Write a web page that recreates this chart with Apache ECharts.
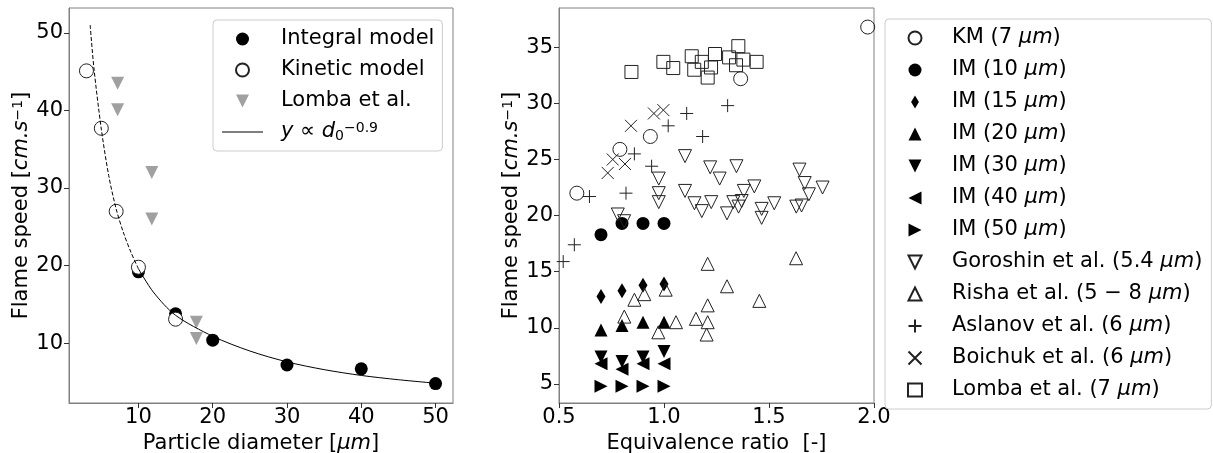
<!DOCTYPE html>
<html>
<head>
<meta charset="utf-8">
<script src="https://cdn.jsdelivr.net/npm/echarts@6/dist/echarts.min.js"></script>
<style>
  html, body { margin: 0; padding: 0; background: #fff; }
  #chart { width: 1213px; height: 453px; }
</style>
</head>
<body>
<div id="chart"></div>
<script>
// ---- left panel: flame speed vs particle diameter ----
var imDiam = [10, 15, 20, 30, 40, 50];
var imSpeed = [19.2, 13.8, 10.4, 7.2, 6.7, 4.8];
var kmDiam = [3, 5, 7, 10, 15];
var kmSpeed = [45.1, 37.7, 27.0, 19.8, 13.1];
var lombaDiam = [7.2, 7.2, 11.8, 11.8, 17.8, 17.8];
var lombaSpeed = [43.5, 40.1, 32.0, 26.0, 12.7, 10.6];
var fitDashDiam = [3.5, 4, 5, 6, 7, 8, 9, 10];
var fitDashSpeed = [51.0, 45.5, 37.6, 31.6, 27.3, 24.2, 21.7, 19.6];
var fitDiam = [10, 12, 15, 20, 25, 30, 35, 40, 45, 50];
var fitSpeed = [19.6, 16.6, 13.6, 10.9, 9.0, 7.6, 6.6, 5.85, 5.3, 4.85];
var leftXTicks = [10, 20, 30, 40, 50];
var leftYTicks = [10, 20, 30, 40, 50];

// ---- right panel: flame speed vs equivalence ratio ----
var kmPhi = [[0.585, 22.0], [0.79, 25.9], [0.935, 27.05], [1.365, 32.2], [1.97, 36.8]];
var imPhi = [0.7, 0.8, 0.9, 1.0];
var im10 = [18.3, 19.3, 19.3, 19.3];
var im15 = [12.8, 13.3, 13.8, 13.9];
var im20 = [9.8, 10.2, 10.5, 10.5];
var im30 = [7.4, 7.0, 7.4, 7.9];
var im40 = [6.8, 6.3, 6.8, 6.8];
var im50 = [4.8, 4.8, 4.8, 4.8];
var goroshin = [[0.78, 20.1], [0.81, 19.5], [0.975, 23.3], [0.975, 22.0], [0.975, 21.2],
  [1.10, 25.3], [1.10, 22.2], [1.145, 21.1], [1.18, 20.4], [1.22, 24.3], [1.225, 21.2],
  [1.265, 23.3], [1.30, 20.2], [1.33, 21.2], [1.345, 24.4], [1.355, 20.8], [1.37, 21.3],
  [1.38, 22.2], [1.43, 22.6], [1.465, 20.6], [1.465, 19.8], [1.525, 21.1], [1.63, 20.8],
  [1.655, 20.9], [1.645, 24.1], [1.67, 22.9], [1.69, 21.9], [1.755, 22.5]];
var risha = [[1.208, 15.7], [1.629, 16.2], [1.30, 13.7], [1.454, 12.4], [1.208, 12.0],
  [0.859, 12.5], [0.906, 13.0], [1.008, 13.4], [0.811, 11.0], [1.057, 10.5], [0.973, 9.6],
  [1.152, 10.8], [1.208, 10.5], [1.203, 9.4]];
var aslanov = [[0.52, 15.9], [0.573, 17.4], [0.645, 21.7], [0.819, 22.0], [0.859, 25.5],
  [0.941, 24.4], [1.02, 28.0], [1.108, 29.1], [1.184, 27.05], [1.303, 29.8]];
var boichuk = [[0.732, 23.8], [0.756, 25.0], [0.814, 24.6], [0.843, 28.0], [0.952, 29.1], [0.997, 29.4]];
var lombaPhi = [[0.845, 32.8], [0.997, 33.7], [1.044, 33.15], [1.132, 34.2], [1.144, 33.0],
  [1.18, 33.7], [1.208, 32.3], [1.224, 33.2], [1.243, 34.4], [1.31, 34.1], [1.354, 35.1],
  [1.343, 33.4], [1.378, 33.9], [1.441, 33.7]];
var rightYTicks = [5, 10, 15, 20, 25, 30, 35];

function zip(xs, ys) {
  return xs.map(function (x, i) { return [x, ys[i]]; });
}

var chart = echarts.init(document.getElementById('chart'));
var font = 'DejaVu Sans';
var fs = 21;

// marker shapes (matplotlib-like)
var plusPath = 'path://M5,0L5,10M0,5L10,5';
var crossPath = 'path://M0,0L10,10M10,0L0,10';
var triUp = 'path://M5,0L10,10L0,10Z';
var triDown = 'path://M0,0L10,0L5,10Z';
var triLeft = 'path://M0,5L10,0L10,10Z';
var triRight = 'path://M0,0L10,5L0,10Z';
var thinDiamond = 'path://M3,0L6,5L3,10L0,5Z';
var lineIcon = 'path://M0,0L41,0L41,1.2L0,1.2Z';

var open = { color: 'transparent', borderColor: '#222', borderWidth: 1, opacity: 1 };
var filled = { color: '#000', opacity: 1 };
var rich = {
  i: { fontStyle: 'italic', fontSize: fs, fontFamily: font, color: '#000' },
  sub: { fontStyle: 'normal', fontSize: 14, fontFamily: font, color: '#000', verticalAlign: 'bottom', lineHeight: 16 },
  sup: { fontStyle: 'normal', fontSize: 14, fontFamily: font, color: '#000', verticalAlign: 'top', lineHeight: 14 }
};

function axisCommon(isX) {
  return {
    type: 'value',
    axisLine: { show: true, lineStyle: { color: '#808080', width: 1 } },
    splitLine: { show: false },
    axisTick: { show: true, length: 5, lineStyle: { color: '#333' } },
    axisLabel: { fontSize: fs, fontFamily: font, color: '#000', margin: isX ? 4 : 6 },
    nameLocation: 'middle',
    nameGap: isX ? 17 : 27,
    nameTextStyle: { fontSize: fs, fontFamily: font, color: '#000', rich: rich }
  };
}

var xLeft = axisCommon(true);
xLeft.gridIndex = 0; xLeft.min = 0.65; xLeft.max = 52.35;
xLeft.axisTick.customValues = leftXTicks;
xLeft.axisLabel.customValues = leftXTicks;
xLeft.name = 'Particle diameter [{i|μm}]';

var yLeft = axisCommon(false);
yLeft.gridIndex = 0; yLeft.min = 2.3; yLeft.max = 53.2;
yLeft.axisTick.customValues = leftYTicks;
yLeft.axisLabel.customValues = leftYTicks;
yLeft.name = 'Flame speed [{i|cm.s}{sup|−1}]';

var xRight = axisCommon(true);
xRight.gridIndex = 1; xRight.min = 0.5; xRight.max = 2.0; xRight.interval = 0.5;
xRight.axisLabel.formatter = function (v) { return v.toFixed(1); };
xRight.name = 'Equivalence ratio  [-]';

var yRight = axisCommon(false);
yRight.gridIndex = 1; yRight.min = 3.3; yRight.max = 38.5;
yRight.axisTick.customValues = rightYTicks;
yRight.axisLabel.customValues = rightYTicks;
yRight.name = 'Flame speed [{i|cm.s}{sup|−1}]';

function sc(name, data, symbol, size, style) {
  return {
    name: name, type: 'scatter', xAxisIndex: 1, yAxisIndex: 1,
    data: data, symbol: symbol, symbolSize: size, symbolKeepAspect: true, itemStyle: style
  };
}

var legendText = {
  fontSize: fs, fontFamily: font, color: '#000', lineHeight: 22, rich: rich
};

var option = {
  animation: false,
  backgroundColor: '#fff',
  grid: [
    { left: 69, top: 8, width: 384, height: 395, show: true, borderColor: '#808080', borderWidth: 1,
      containLabel: false, outerBoundsMode: 'none' },
    { left: 559, top: 8, width: 315, height: 395, show: true, borderColor: '#808080', borderWidth: 1,
      containLabel: false, outerBoundsMode: 'none' }
  ],
  xAxis: [xLeft, xRight],
  yAxis: [yLeft, yRight],
  legend: [
    {
      left: 213, top: 20, orient: 'vertical', selectedMode: false,
      padding: [8, 8, 8, 9], itemWidth: 41, itemHeight: 13, itemGap: 9,
      backgroundColor: 'rgba(255,255,255,0.8)', borderColor: '#ccc', borderWidth: 1, borderRadius: 4,
      textStyle: Object.assign({ padding: [0, 0, 0, 13] }, legendText),
      data: ['Integral model', 'Kinetic model', 'Lomba et al.', { name: 'fit', icon: lineIcon }],
      formatter: function (name) {
        return name === 'fit' ? '{i|y} ∝ {i|d}{sub|0}{sup|−0.9}' : name;
      }
    },
    {
      left: 885, top: 19, orient: 'vertical', selectedMode: false,
      padding: [8, 9, 8, 22], itemWidth: 14, itemHeight: 13, itemGap: 10,
      backgroundColor: 'rgba(255,255,255,0.8)', borderColor: '#ccc', borderWidth: 1, borderRadius: 4,
      textStyle: Object.assign({ padding: [0, 0, 0, 25] }, legendText),
      data: ['KM (7 μm)', 'IM (10 μm)', 'IM (15 μm)', 'IM (20 μm)', 'IM (30 μm)', 'IM (40 μm)',
        'IM (50 μm)', 'Goroshin et al. (5.4 μm)', 'Risha et al. (5 − 8 μm)',
        'Aslanov et al. (6 μm)', 'Boichuk et al. (6 μm)', 'Lomba et al. (7 μm)'],
      formatter: function (name) { return name.replace('μm', '{i|μm}'); }
    }
  ],
  series: [
    { name: 'Integral model', type: 'scatter', xAxisIndex: 0, yAxisIndex: 0,
      data: zip(imDiam, imSpeed), symbol: 'circle', symbolSize: 13, itemStyle: filled },
    { name: 'Kinetic model', type: 'scatter', xAxisIndex: 0, yAxisIndex: 0,
      data: zip(kmDiam, kmSpeed), symbol: 'circle', symbolSize: 14,
      itemStyle: { color: '#fff', borderColor: '#222', borderWidth: 1, opacity: 1 } },
    { name: 'Lomba et al.', type: 'scatter', xAxisIndex: 0, yAxisIndex: 0,
      data: zip(lombaDiam, lombaSpeed), symbol: triDown, symbolSize: 13, symbolKeepAspect: true,
      itemStyle: { color: '#a0a0a0', opacity: 1 } },
    { name: 'fit dashed', type: 'line', xAxisIndex: 0, yAxisIndex: 0,
      data: zip(fitDashDiam, fitDashSpeed), symbol: 'none', smooth: 0.3,
      lineStyle: { color: '#000', width: 1, type: [4, 2] } },
    { name: 'fit', type: 'line', xAxisIndex: 0, yAxisIndex: 0,
      data: zip(fitDiam, fitSpeed), symbol: 'none', smooth: 0.3,
      lineStyle: { color: '#000', width: 1 }, itemStyle: { color: '#000' } },

    sc('KM (7 μm)', kmPhi, 'circle', 14, open),
    sc('IM (10 μm)', zip(imPhi, im10), 'circle', 13, filled),
    sc('IM (15 μm)', zip(imPhi, im15), thinDiamond, 15, filled),
    sc('IM (20 μm)', zip(imPhi, im20), triUp, 13, filled),
    sc('IM (30 μm)', zip(imPhi, im30), triDown, 13, filled),
    sc('IM (40 μm)', zip(imPhi, im40), triLeft, 13, filled),
    sc('IM (50 μm)', zip(imPhi, im50), triRight, 13, filled),
    sc('Goroshin et al. (5.4 μm)', goroshin, triDown, 13, open),
    sc('Risha et al. (5 − 8 μm)', risha, triUp, 13, open),
    sc('Aslanov et al. (6 μm)', aslanov, plusPath, 13, open),
    sc('Boichuk et al. (6 μm)', boichuk, crossPath, 12, open),
    sc('Lomba et al. (7 μm)', lombaPhi, 'rect', 13, open)
  ]
};

chart.setOption(option);
</script>
</body>
</html>
